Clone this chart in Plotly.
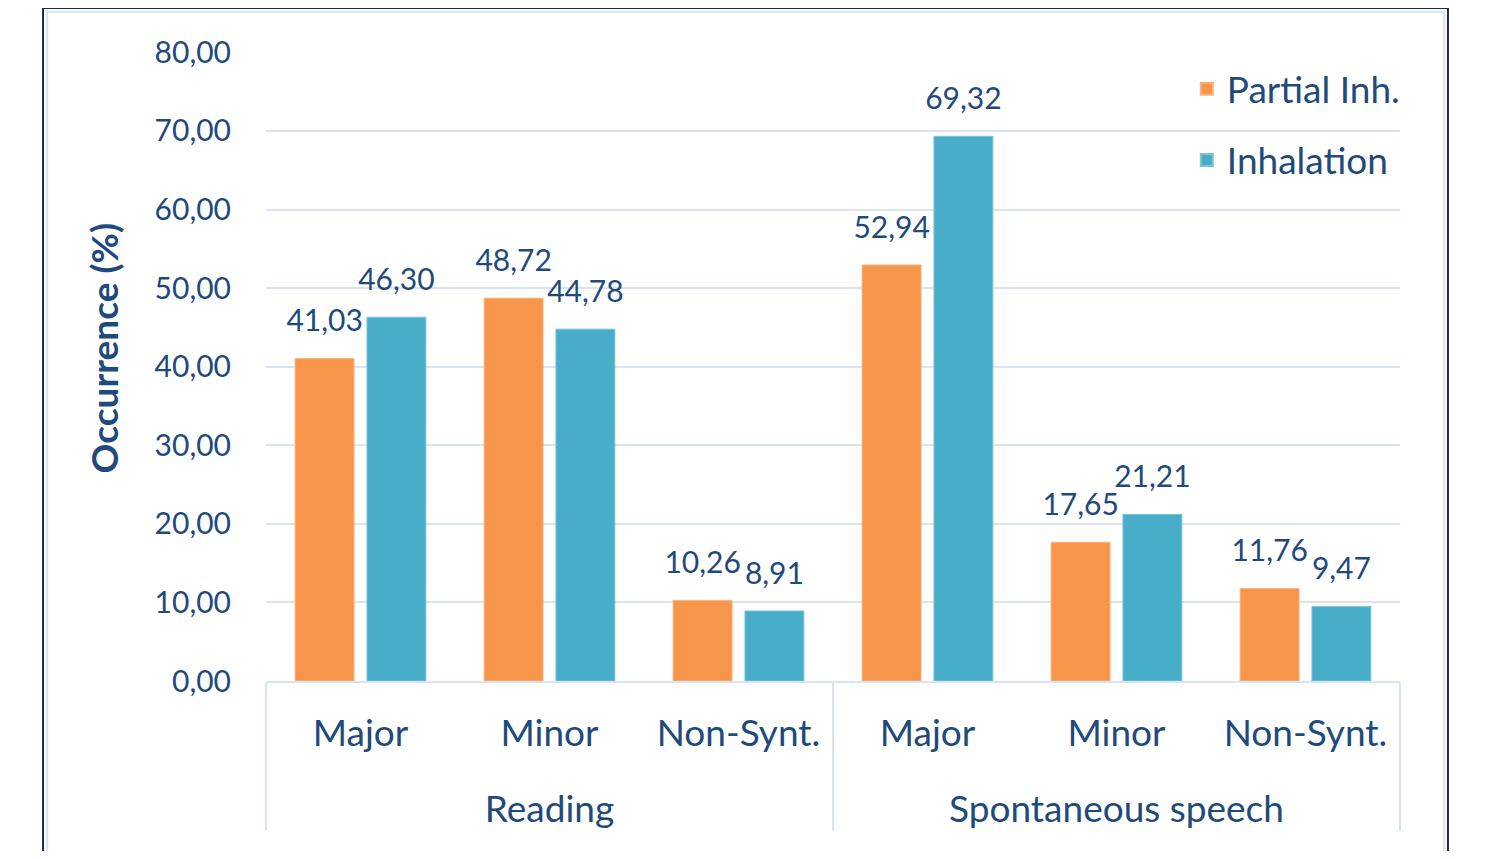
import plotly.graph_objects as go

groups = ["Reading", "Reading", "Reading",
          "Spontaneous speech", "Spontaneous speech", "Spontaneous speech"]
categories = ["Major", "Minor", "Non-Synt.", "Major", "Minor", "Non-Synt."]
partial_inh = [41.03, 48.72, 10.26, 52.94, 17.65, 11.76]
inhalation = [46.30, 44.78, 8.91, 69.32, 21.21, 9.47]
y_ticks = [0, 10, 20, 30, 40, 50, 60, 70, 80]

TXT = "#1f4a7c"
FONT = "Lato"
GRID = "#d9e4f3"
LBL = 37

x_outer = ["<br><br><br><span style='font-size:%dpx'>%s</span>" % (LBL, g) for g in groups]
x_inner = ["<span style='font-size:%dpx'>%s</span>" % (LBL, c) for c in categories]
xx = [x_outer, x_inner]

fig = go.Figure()
for name, vals, col, edge in [("Partial Inh.", partial_inh, "#f7964a", "#fbb27a"),
                              ("Inhalation", inhalation, "#47adc9", "#7cc4d8")]:
    fig.add_trace(go.Bar(
        name=name, x=xx, y=vals, offsetgroup=name, legendgroup=name,
        marker=dict(color=col, line=dict(color=edge, width=1)),
        hoverinfo="y",
    ))
    fig.add_trace(go.Scatter(
        x=xx, y=vals, offsetgroup=name, mode="markers+text",
        texttemplate="%{y:.2f}", textposition="top center",
        textfont=dict(family=FONT, size=30, color=TXT),
        marker=dict(size=30, opacity=0), showlegend=False, hoverinfo="skip",
        cliponaxis=False,
    ))

fig.update_layout(
    width=1469, height=843,
    margin=dict(l=258, r=77, t=44, b=170),
    paper_bgcolor="white", plot_bgcolor="white",
    separators=", ",
    barmode="group", bargap=0.24, bargroupgap=0.18,
    scattermode="group", scattergap=0.24,
    font=dict(family=FONT, color=TXT),
    legend=dict(
        x=0.812, y=0.99, xanchor="left", yanchor="top",
        bgcolor="rgba(0,0,0,0)", font=dict(family=FONT, size=37, color=TXT),
        tracegroupgap=20, itemsizing="constant",
    ),
    annotations=[dict(
        text="<b>Occurrence (%)</b>", textangle=-90,
        xref="paper", yref="paper", x=-0.1436, y=0.529,
        xanchor="center", yanchor="middle", showarrow=False,
        font=dict(family=FONT, size=37, color=TXT),
    )],
)
fig.update_yaxes(
    range=[0, 80.05], tickvals=y_ticks, tickformat=".2f",
    showgrid=True, gridcolor=GRID, gridwidth=2,
    zeroline=False, showline=False,
    ticks="outside", ticklen=28, tickcolor="rgba(0,0,0,0)",
    tickfont=dict(family=FONT, size=30, color=TXT),
)
fig.update_xaxes(
    type="multicategory",
    showline=True, linecolor=GRID, linewidth=2,
    showdividers=True, dividercolor=GRID, dividerwidth=2,
    tickfont=dict(family=FONT, size=18, color=TXT),
    ticks="", ticklabelstandoff=41, showgrid=False,
)

fig.add_shape(type="rect", xref="paper", yref="paper",
              x0=-0.1966, x1=1.0423, y0=-0.35, y1=1.07,
              line=dict(color="#1c2a44", width=2), fillcolor="rgba(0,0,0,0)", layer="below")
fig.add_shape(type="rect", xref="paper", yref="paper",
              x0=-0.193, x1=1.039, y0=-0.35, y1=1.064,
              line=dict(color="#d6e3f5", width=2), fillcolor="rgba(0,0,0,0)", layer="below")

fig.write_html("out.html")
